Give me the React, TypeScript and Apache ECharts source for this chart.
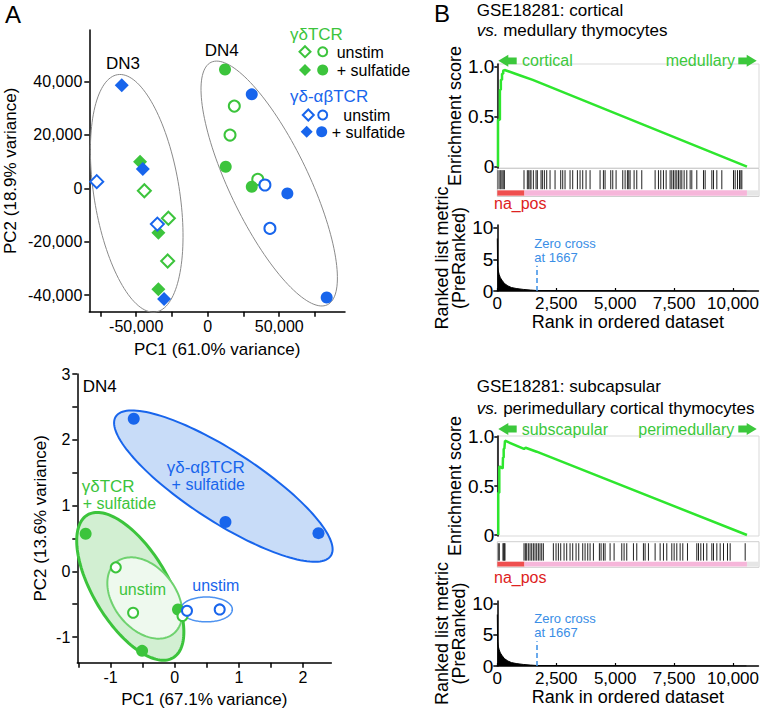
import React, { useEffect, useRef } from "react";
import * as echarts from "echarts";

const FONT = "'Liberation Sans', Arial, Helvetica, sans-serif";
const NARROW = "'Liberation Sans Narrow', 'Liberation Sans', Arial, sans-serif";
const GREEN = "#3cc43c";
const GREEN_LIGHT = "#6fd26f";
const BLUE = "#1865ec";
const BLUE_LIGHT = "#4d92f0";
const LIME = "#2ee62e";
const ARROW_GREEN = "#3cc83c";
const ZERO_BLUE = "#3a8ee6";
const RED = "#dd2222";

// ---------- Panel A (top): PCA of DN3 / DN4 ----------
const dn3GreenUnstim = [[-44300, -900], [-27500, -11200], [-28000, -27200]];
const dn3GreenSulf = [[-47300, 9950], [-34500, -16600], [-34500, -37800]];
const dn3BlueUnstim = [[-77600, 2500], [-35200, -13400]];
const dn3BlueSulf = [[-60100, 38650], [-45400, 7200], [-30500, -41400]];
const dn4GreenUnstim = [[18600, 30800], [15600, 19950], [35000, 3350]];
const dn4GreenSulf = [[12100, 44500], [12600, 8100], [30800, 600]];
const dn4BlueUnstim = [[40000, 1250], [43500, -15000]];
const dn4BlueSulf = [[30800, 35200], [55700, -1900], [83200, -40900]];
// ellipse: centre x, centre y, major half-axis (dx, dy), minor half-axis (dx, dy), in data units
const dn3Ellipse = [-49650, -1870, -13360, 44440, 29510, 2550];
const dn4Ellipse = [43000, 1800, -40630, 45410, 24970, 6400];
const topXTicks = [-75000, -50000, -25000, 0, 25000, 50000, 75000];
const topXLabels = [-50000, 0, 50000];
const topYTicks = [-40000, -20000, 0, 20000, 40000];

// ---------- Panel A (bottom): PCA of DN4 ----------
const dn4bGreenSulf = [[-1.39, 0.57], [0.05, -0.58], [-0.51, -1.21]];
const dn4bGreenUnstim = [[-0.92, 0.06], [-0.65, -0.63], [0.12, -0.68]];
const dn4bBlueSulf = [[-0.64, 2.32], [0.79, 0.75], [2.24, 0.58]];
const dn4bBlueUnstim = [[0.19, -0.6], [0.7, -0.58]];
const greenSulfEllipse = [-0.694, -0.229, 0.669, -1.085, -0.5, -0.293];
const greenUnstimEllipse = [-0.468, -0.406, 0.445, -0.545, -0.378, -0.292];
const blueSulfEllipse = [0.757, 1.295, 1.677, -1.058, -0.3, -0.453];
const blueUnstimEllipse = [0.493, -0.58, 0.404, 0, 0, -0.189];
const botXTicks = [-1.5, -1, -0.5, 0, 0.5, 1, 1.5, 2];
const botXLabels = [-1, 0, 1, 2];
const botYTicks = [-1, -0.5, 0, 0.5, 1, 1.5, 2, 2.5, 3];
const botYLabels = [-1, 0, 1, 2, 3];

// ---------- Panel B: GSEA ----------
const es1Rank = [30, 30, 110, 110, 150, 150, 200, 200, 250, 250, 310, 1000, 1500, 10570];
const es1Score = [0, 0.47, 0.47, 0.77, 0.77, 0.87, 0.87, 0.93, 0.93, 0.96, 0.967, 0.91, 0.868, 0];
const hits1 = [30, 110, 150, 200, 250, 300, 1131, 1272, 1329, 1386, 1428, 1527, 1640, 1696, 1852, 1908, 1993, 2092, 2233, 2445, 2685, 2770, 2868, 3080, 3193, 3391, 3504, 3617, 3758, 3928, 4351, 4493, 4563, 4803, 4888, 5029, 5312, 5411, 5509, 5566, 5622, 5792, 5905, 6117, 6682, 6823, 6922, 7035, 7148, 7317, 7388, 7458, 7529, 7600, 7670, 7741, 7812, 7910, 8023, 8165, 8235, 8447, 8730, 8800, 9083, 9153, 9295, 9506, 10001, 10071, 10170, 10255, 10312, 10354];
const es2Rank = [40, 40, 85, 85, 230, 240, 270, 270, 300, 326, 1130, 1200, 1666, 10570];
const es2Score = [0, 0.43, 0.43, 0.7, 0.68, 0.79, 0.79, 0.88, 0.88, 0.962, 0.878, 0.89, 0.85, 0];
const hits2 = [40, 85, 240, 270, 300, 326, 1131, 1188, 1244, 1315, 1386, 1456, 1527, 1597, 1668, 1739, 1809, 1880, 1950, 2374, 2487, 2586, 2685, 2826, 2939, 3080, 3193, 3335, 3448, 3617, 3716, 3829, 3928, 4069, 4323, 4394, 4493, 4563, 4775, 4945, 5270, 5368, 5481, 5764, 5905, 6187, 6258, 6399, 6682, 6894, 7035, 7176, 7388, 7487, 7600, 7741, 7854, 8052, 8447, 8518, 8617, 8730, 8871, 9083, 9153, 9295, 9436, 9577, 9746, 9859, 10495];
const metricRank = [0, 12, 12, 40, 80, 130, 200, 300, 450, 600, 800, 1100, 1400, 1667, 10570];
const metricValue = [8.3, 8.3, 4.0, 3.2, 2.6, 2.1, 1.7, 1.2, 0.8, 0.55, 0.4, 0.25, 0.15, 0.08, 0];
const zeroCross = 1667;
const zeroCrossLineTop = 4;
const rankSegments = [[0, 1150], [1150, 10570], [10570, 11080]];
const rankSegColors = ["#ef4f4f", "#f6b6da", "#e6e6e6"];
const rankTicks = [0, 2500, 5000, 7500, 10000];
const rankMax = 11080;
const esTicks = [0, 0.5, 1];
const metricTicks = [0, 5, 10];

const zip = (a: number[], b: number[]) => a.map((v, i) => [v, b[i]]);
const fmtThousands = (v: number) => Math.round(v).toLocaleString("en-US");

function ellipseSeries(e: number[], gi: number, stroke: string, fill: string, lw: number, z: number) {
  return {
    type: "custom",
    xAxisIndex: gi,
    yAxisIndex: gi,
    silent: true,
    clip: false,
    z,
    data: [e],
    renderItem: (_p: any, api: any) => {
      const v = [0, 1, 2, 3, 4, 5].map((i) => api.value(i));
      const pts: number[][] = [];
      for (let i = 0; i < 144; i++) {
        const t = (i / 144) * Math.PI * 2;
        const c = Math.cos(t), s = Math.sin(t);
        pts.push(api.coord([v[0] + v[2] * c + v[4] * s, v[1] + v[3] * c + v[5] * s]));
      }
      return { type: "polygon", shape: { points: pts }, style: { fill, stroke, lineWidth: lw } };
    },
  };
}

function scat(data: number[][], gi: number, symbol: string, size: number, color: string, open: boolean) {
  return {
    type: "scatter",
    xAxisIndex: gi,
    yAxisIndex: gi,
    data,
    symbol,
    symbolSize: size,
    silent: true,
    z: 10,
    itemStyle: open ? { color: "#fff", borderColor: color, borderWidth: 2, opacity: 1 } : { color, opacity: 1 },
  };
}

function hitSeries(hits: number[], gi: number) {
  return {
    type: "custom",
    xAxisIndex: gi,
    yAxisIndex: gi,
    silent: true,
    data: hits.map((h) => [h, 0.5]),
    renderItem: (_p: any, api: any) => {
      const x = api.value(0);
      const a = api.coord([x, 0.94]);
      const b = api.coord([x, 0.26]);
      return { type: "line", shape: { x1: a[0], y1: a[1], x2: b[0], y2: b[1] }, style: { stroke: "#222", lineWidth: 1 } };
    },
  };
}

function rankBarSeries(gi: number) {
  return {
    type: "custom",
    xAxisIndex: gi,
    yAxisIndex: gi,
    silent: true,
    data: rankSegments,
    renderItem: (p: any, api: any) => {
      const a = api.coord([api.value(0), 0.22]);
      const b = api.coord([api.value(1), 0.03]);
      return { type: "rect", shape: { x: a[0], y: a[1], width: b[0] - a[0], height: b[1] - a[1] }, style: { fill: rankSegColors[p.dataIndex] } };
    },
  };
}

const blackLine = { show: true, onZero: false, lineStyle: { color: "#000", width: 1.5 } };

function valueAxis(gi: number, min: number, max: number, ticks: number[], labels: number[], fmt: (v: number) => string, extra: any = {}) {
  return {
    type: "value",
    gridIndex: gi,
    min,
    max,
    splitLine: { show: false },
    axisLine: blackLine,
    axisTick: { show: true, length: 5, customValues: ticks, lineStyle: { color: "#000", width: 1.5 } },
    axisLabel: { customValues: labels, formatter: fmt, color: "#000", fontSize: 16, fontFamily: FONT, margin: 7 },
    nameLocation: "middle",
    nameTextStyle: { color: "#000", fontSize: 17, fontFamily: FONT },
    ...extra,
  };
}

function txt(x: number, y: number, text: string, o: any = {}) {
  return {
    type: "text",
    x,
    y,
    silent: true,
    z: 100,
    style: {
      text,
      fontSize: o.size || 16,
      fontFamily: o.family || FONT,
      fontStyle: o.italic ? "italic" : "normal",
      fill: o.color || "#000",
      align: o.align || "left",
      verticalAlign: "middle",
      rich: o.rich,
    },
  };
}

function arrow(tailX: number, tipX: number, yc: number) {
  const dir = Math.sign(tipX - tailX);
  const bx = tipX - 10 * dir;
  return {
    type: "polygon",
    silent: true,
    shape: { points: [[tipX, yc], [bx, yc - 6], [bx, yc - 3.4], [tailX, yc - 3.4], [tailX, yc + 3.4], [bx, yc + 3.4], [bx, yc + 6]] },
    style: { fill: ARROW_GREEN },
  };
}

function diamond(x: number, y: number, r: number, color: string, open: boolean) {
  return {
    type: "polygon",
    silent: true,
    shape: { points: [[x, y - r], [x + r, y], [x, y + r], [x - r, y]] },
    style: open ? { fill: "#fff", stroke: color, lineWidth: 2 } : { fill: color },
  };
}
function dot(x: number, y: number, r: number, color: string, open: boolean) {
  return {
    type: "circle",
    silent: true,
    shape: { cx: x, cy: y, r },
    style: open ? { fill: "#fff", stroke: color, lineWidth: 2 } : { fill: color },
  };
}

export default function App() {
  const ref = useRef<HTMLDivElement>(null);
  useEffect(() => {
    document.body.style.margin = "0";
    const chart = echarts.init(ref.current!, null, { renderer: "svg" });
    const gseaX = (gi: number, show: boolean) =>
      show
        ? {
            type: "value",
            gridIndex: gi,
            min: 0,
            max: rankMax,
            splitLine: { show: false },
            axisLine: blackLine,
            axisTick: { show: true, inside: true, length: 3, customValues: rankTicks, lineStyle: { color: "#000", width: 1.2 } },
            axisLabel: { customValues: rankTicks, formatter: fmtThousands, color: "#000", fontSize: 17, fontFamily: FONT, margin: 4 },
            name: "Rank in ordered dataset",
            nameLocation: "middle",
            nameGap: 22,
            nameTextStyle: { color: "#000", fontSize: 18, fontFamily: FONT },
          }
        : { type: "value", gridIndex: gi, min: 0, max: rankMax, show: false };

    const esY = (gi: number, min: number, max: number) => ({
      type: "value",
      gridIndex: gi,
      min,
      max,
      splitLine: { show: false },
      axisLine: blackLine,
      axisTick: { show: true, length: 3, customValues: esTicks, lineStyle: { color: "#000", width: 1.5 } },
      axisLabel: { customValues: esTicks, formatter: (v: number) => (v === 0 ? "0" : v.toFixed(1)), color: "#000", fontSize: 19, fontFamily: FONT, margin: 3 },
      name: "Enrichment score",
      nameLocation: "middle",
      nameGap: 28,
      nameTextStyle: { color: "#000", fontSize: 18, fontFamily: FONT },
    });
    const metricY = (gi: number, max: number) => ({
      type: "value",
      gridIndex: gi,
      min: 0,
      max,
      splitLine: { show: false },
      axisLine: blackLine,
      axisTick: { show: true, length: 4, customValues: metricTicks, lineStyle: { color: "#000", width: 1.5 } },
      axisLabel: { customValues: metricTicks, color: "#000", fontSize: 19, fontFamily: FONT, margin: 4 },
      name: "Ranked list metric\n(PreRanked)",
      nameLocation: "middle",
      nameGap: 28,
      nameTextStyle: { color: "#000", fontSize: 18, fontFamily: FONT, lineHeight: 17 },
    });

    const esLine = (rank: number[], score: number[], gi: number) => ({
      type: "line",
      xAxisIndex: gi,
      yAxisIndex: gi,
      data: zip(rank, score),
      symbol: "none",
      silent: true,
      lineStyle: { color: LIME, width: 2.5 },
    });
    const metricArea = (gi: number) => ({
      type: "line",
      xAxisIndex: gi,
      yAxisIndex: gi,
      data: zip(metricRank, metricValue),
      symbol: "none",
      silent: true,
      lineStyle: { color: "#000", width: 1 },
      areaStyle: { color: "#000", opacity: 1 },
      markLine: {
        silent: true,
        symbol: "none",
        label: { show: false },
        lineStyle: { type: [5, 3], color: ZERO_BLUE, width: 1.5 },
        data: [[{ coord: [zeroCross, 0] }, { coord: [zeroCross, zeroCrossLineTop] }]],
      },
    });

    const graphics: any[] = [
      txt(5, 14, "A", { size: 24 }),
      txt(434, 13, "B", { size: 24 }),
      // legend (top plot)
      txt(290, 34, "γδTCR", { color: GREEN, size: 17 }),
      diamond(305, 51.7, 5.5, GREEN, true),
      dot(322.7, 51.7, 4.5, GREEN, true),
      txt(336.7, 52, "unstim", { size: 16 }),
      diamond(305, 70, 6, GREEN, false),
      dot(322.7, 70, 5.5, GREEN, false),
      txt(336.7, 70.5, "+ sulfatide", { size: 16 }),
      txt(290, 96.7, "γδ-αβTCR", { color: BLUE, size: 17 }),
      diamond(308.3, 115, 5.5, BLUE, true),
      dot(322.7, 115, 4.5, BLUE, true),
      txt(343.3, 115.3, "unstim", { size: 16 }),
      diamond(306.7, 131.7, 6, BLUE, false),
      dot(321.7, 131.7, 5.5, BLUE, false),
      txt(331.7, 132, "+ sulfatide", { size: 16 }),
      txt(123, 63.3, "DN3", { size: 17, align: "center" }),
      txt(221.7, 50, "DN4", { size: 17, align: "center" }),
      // bottom plot annotations
      txt(82.7, 386, "DN4", { size: 17 }),
      txt(205.8, 467.3, "γδ-αβTCR", { size: 17, color: BLUE, align: "center" }),
      txt(208.3, 484.3, "+ sulfatide", { size: 16, color: BLUE, align: "center" }),
      txt(81.7, 486.7, "γδTCR", { size: 17, color: GREEN }),
      txt(82.7, 503.3, "+ sulfatide", { size: 16, color: GREEN }),
      txt(142.5, 589.3, "unstim", { size: 16, color: GREEN, align: "center" }),
      txt(215.8, 585, "unstim", { size: 16, color: BLUE, align: "center" }),
      // GSEA 1
      txt(476.7, 10.7, "GSE18281: cortical", { size: 17 }),
      txt(476.7, 30, "{i|vs.} medullary thymocytes", { size: 17, rich: { i: { fontStyle: "italic", fontSize: 17, fontFamily: FONT } } }),
      arrow(516.7, 498.3, 60.8),
      arrow(738.3, 756.7, 60.8),
      txt(522, 60.5, "cortical", { size: 16, family: NARROW, color: ARROW_GREEN }),
      txt(735, 60.5, "medullary", { size: 16, family: NARROW, color: ARROW_GREEN, align: "right" }),
      txt(494, 203, "na_pos", { size: 16, family: NARROW, color: RED }),
      txt(534.3, 243.5, "Zero cross", { size: 13, family: NARROW, color: ZERO_BLUE }),
      txt(534.3, 257.5, "at 1667", { size: 13, family: NARROW, color: ZERO_BLUE }),
      // GSEA 2
      txt(476.7, 386, "GSE18281: subcapsular", { size: 17 }),
      txt(476.7, 408.3, "{i|vs.} perimedullary cortical thymocytes", { size: 17, rich: { i: { fontStyle: "italic", fontSize: 17, fontFamily: FONT } } }),
      arrow(516.7, 498.3, 429),
      arrow(738.3, 756.7, 429),
      txt(521.7, 429, "subscapular", { size: 16, family: NARROW, color: ARROW_GREEN }),
      txt(734.3, 429, "perimedullary", { size: 16, family: NARROW, color: ARROW_GREEN, align: "right" }),
      txt(494, 577, "na_pos", { size: 16, family: NARROW, color: RED }),
      txt(534.3, 618.5, "Zero cross", { size: 13, family: NARROW, color: ZERO_BLUE }),
      txt(534.3, 632.5, "at 1667", { size: 13, family: NARROW, color: ZERO_BLUE }),
    ];

    const option: any = {
      animation: false,
      backgroundColor: "#fff",
      textStyle: { fontFamily: FONT },
      grid: [
        { left: 89.3, top: 30, width: 255.7, height: 281.7 },
        { left: 77.3, top: 374, width: 254, height: 288.7 },
        { left: 497.3, top: 64, width: 261.7, height: 104, show: true, borderColor: "#d9d9d9", borderWidth: 1 },
        { left: 497.3, top: 168.5, width: 261.7, height: 28, show: true, borderColor: "#cfcfcf", borderWidth: 1 },
        { left: 497.3, top: 225, width: 261.7, height: 66 },
        { left: 497.3, top: 436, width: 261.7, height: 100, show: true, borderColor: "#d9d9d9", borderWidth: 1 },
        { left: 497.3, top: 541.7, width: 261.7, height: 25.6, show: true, borderColor: "#cfcfcf", borderWidth: 1 },
        { left: 497.3, top: 601, width: 261.7, height: 65 },
      ],
      xAxis: [
        valueAxis(0, -82800, 96000, topXTicks, topXLabels, fmtThousands, { name: "PC1 (61.0% variance)", nameGap: 29 }),
        valueAxis(1, -1.52, 2.44, botXTicks, botXLabels, (v: number) => String(v), { name: "PC1 (67.1% variance)", nameGap: 28 }),
        gseaX(2, false),
        gseaX(3, false),
        gseaX(4, true),
        gseaX(5, false),
        gseaX(6, false),
        gseaX(7, true),
      ],
      yAxis: [
        valueAxis(0, -46200, 59300, topYTicks, topYTicks, fmtThousands, { name: "PC2 (18.9% variance)", nameGap: 70, axisLabel: { customValues: topYTicks, formatter: fmtThousands, color: "#000", fontSize: 16, fontFamily: FONT, margin: 7 } }),
        valueAxis(1, -1.39, 3, botYTicks, botYLabels, (v: number) => String(v), { name: "PC2 (13.6% variance)", nameGap: 28 }),
        esY(2, -0.013, 1.027),
        { type: "value", gridIndex: 3, min: 0, max: 1, show: false },
        metricY(4, 10.43),
        esY(5, -0.0102, 1.0102),
        { type: "value", gridIndex: 6, min: 0, max: 1, show: false },
        metricY(7, 10.48),
      ],
      series: [
        ellipseSeries(dn3Ellipse, 0, "#8a8a8a", "none", 1, 1),
        ellipseSeries(dn4Ellipse, 0, "#8a8a8a", "none", 1, 1),
        scat(dn3GreenUnstim, 0, "diamond", 13, GREEN, true),
        scat(dn3GreenSulf, 0, "diamond", 14, GREEN, false),
        scat(dn3BlueUnstim, 0, "diamond", 13, BLUE, true),
        scat(dn3BlueSulf, 0, "diamond", 14, BLUE, false),
        scat(dn4GreenUnstim, 0, "circle", 11, GREEN, true),
        scat(dn4GreenSulf, 0, "circle", 12, GREEN, false),
        scat(dn4BlueUnstim, 0, "circle", 11, BLUE, true),
        scat(dn4BlueSulf, 0, "circle", 12, BLUE, false),

        ellipseSeries(greenSulfEllipse, 1, GREEN, "#d2efd2", 3, 1),
        ellipseSeries(greenUnstimEllipse, 1, GREEN_LIGHT, "#eef9ee", 2, 2),
        ellipseSeries(blueUnstimEllipse, 1, BLUE_LIGHT, "none", 1.5, 2),
        ellipseSeries(blueSulfEllipse, 1, BLUE, "#c8dcf8", 2, 2),
        scat(dn4bGreenSulf, 1, "circle", 12, GREEN, false),
        scat(dn4bGreenUnstim, 1, "circle", 10, GREEN, true),
        scat(dn4bBlueSulf, 1, "circle", 12, BLUE, false),
        scat(dn4bBlueUnstim, 1, "circle", 10, BLUE, true),

        esLine(es1Rank, es1Score, 2),
        hitSeries(hits1, 3),
        rankBarSeries(3),
        metricArea(4),
        esLine(es2Rank, es2Score, 5),
        hitSeries(hits2, 6),
        rankBarSeries(6),
        metricArea(7),
      ],
      graphic: graphics,
    };
    chart.setOption(option);
    return () => chart.dispose();
  }, []);
  return <div ref={ref} style={{ width: 762, height: 713, position: "absolute", left: 0, top: 0 }} />;
}
